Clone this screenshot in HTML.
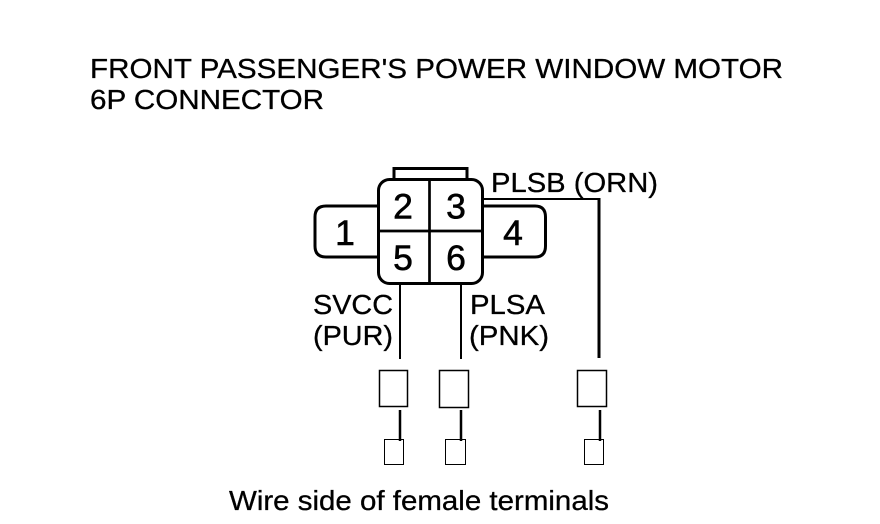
<!DOCTYPE html>
<html>
<head>
<meta charset="utf-8">
<style>
html,body{margin:0;padding:0;background:#fff;width:880px;height:524px;overflow:hidden}
svg{display:block}
text{font-family:"Liberation Sans",Arial,sans-serif;fill:#000;font-size:28px;stroke:#000;stroke-width:.3px}
.d{font-size:35.500px;stroke-width:.6px}
</style>
</head>
<body>
<svg width="880" height="524" viewBox="0 0 880 524" xmlns="http://www.w3.org/2000/svg">
<text x="90" y="78" textLength="693" lengthAdjust="spacingAndGlyphs">FRONT PASSENGER'S POWER WINDOW MOTOR</text>
<text x="90" y="109" textLength="234" lengthAdjust="spacingAndGlyphs">6P CONNECTOR</text>

<g fill="none" stroke="#000">
<path d="M394 179V168.500H467V179" stroke-width="3"/>
<rect x="378.500" y="179.500" width="104" height="104" rx="11" stroke-width="3"/>
<path d="M429.500 179V284M378 231H483" stroke-width="2.700"/>
<path d="M377 206H326Q315 206 315 217V246Q315 257 326 257H377" stroke-width="3"/>
<path d="M484 206H535Q545.500 206 545.500 217V246Q545.500 257 535 257H484" stroke-width="3"/>
<path d="M484 199H599" stroke-width="2"/>
<path d="M599 198V358" stroke-width="3"/>
<path d="M400 285V359M461 285V359" stroke-width="2"/>

<rect x="379.500" y="370.500" width="28" height="36" stroke-width="1.500"/>
<rect x="439.500" y="370.500" width="29" height="37" stroke-width="1.500"/>
<rect x="577.500" y="370.500" width="29" height="36" stroke-width="1.500"/>
<path d="M400 410V441M461 410V441M600 410V441" stroke-width="2.500"/>
<rect x="384.500" y="439.500" width="19" height="25" stroke-width="1"/>
<rect x="445.500" y="439.500" width="20" height="25" stroke-width="1"/>
<rect x="584.500" y="439.500" width="19" height="25" stroke-width="1"/>
</g>

<text class="d" x="403" y="218.500" text-anchor="middle">2</text>
<text class="d" x="456" y="218.500" text-anchor="middle">3</text>
<text class="d" x="403" y="270" text-anchor="middle">5</text>
<text class="d" x="456" y="270" text-anchor="middle">6</text>
<text class="d" x="345" y="245" text-anchor="middle">1</text>
<text class="d" x="513" y="245" text-anchor="middle">4</text>

<text x="491" y="192" textLength="167" lengthAdjust="spacingAndGlyphs">PLSB (ORN)</text>
<text x="313" y="314" textLength="80" lengthAdjust="spacingAndGlyphs">SVCC</text>
<text x="313" y="345" textLength="80" lengthAdjust="spacingAndGlyphs">(PUR)</text>
<text x="470" y="314" textLength="75" lengthAdjust="spacingAndGlyphs">PLSA</text>
<text x="469" y="345" textLength="80" lengthAdjust="spacingAndGlyphs">(PNK)</text>
<text x="229" y="510" textLength="380" lengthAdjust="spacingAndGlyphs">Wire side of female terminals</text>
</svg>
</body>
</html>
